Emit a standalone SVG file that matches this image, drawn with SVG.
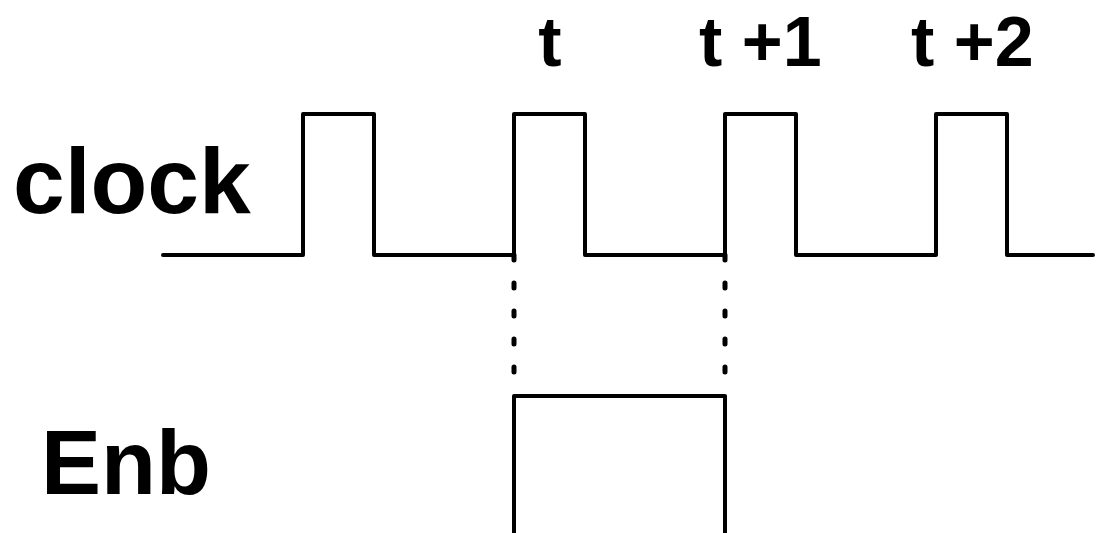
<svg xmlns="http://www.w3.org/2000/svg" width="1106" height="533" viewBox="0 0 1106 533">
  <style>
    .lbl { font-family: "Liberation Sans", Arial, sans-serif; font-weight: bold; fill: #000; }
    .wave { fill: none; stroke: #000; stroke-width: 4; stroke-linejoin: round; stroke-linecap: round; }
    .dots { fill: none; stroke: #000; stroke-width: 5; stroke-linecap: round; stroke-dasharray: 5 23; }
  </style>
  <rect width="1106" height="533" fill="#fff"/>

  <!-- signal names -->
  <g id="label-clock"><text class="lbl" x="13" y="213" font-size="93">clock</text></g>
  <g id="label-enb"><text class="lbl" x="41" y="494" font-size="90">Enb</text></g>

  <!-- time markers -->
  <g id="time-t"><text class="lbl" x="550" y="66" font-size="70" text-anchor="middle">t</text></g>
  <g id="time-t1"><text class="lbl" x="699" y="66" font-size="70">t +1</text></g>
  <g id="time-t2"><text class="lbl" x="911" y="66" font-size="70">t +2</text></g>

  <!-- clock waveform -->
  <g id="clock">
    <path class="wave" d="M163 255 H303 V114 H374 V255 H514 V114 H585 V255 H725 V114 H796 V255 H936 V114 H1007 V255 H1093"/>
  </g>

  <!-- enable waveform -->
  <g id="enb">
    <path class="wave" d="M514 533 V396 H725 V533"/>
  </g>

  <!-- alignment guides -->
  <g id="connectors">
    <path class="dots" d="M514 255 V372"/>
    <path class="dots" d="M725 255 V372"/>
  </g>
</svg>
